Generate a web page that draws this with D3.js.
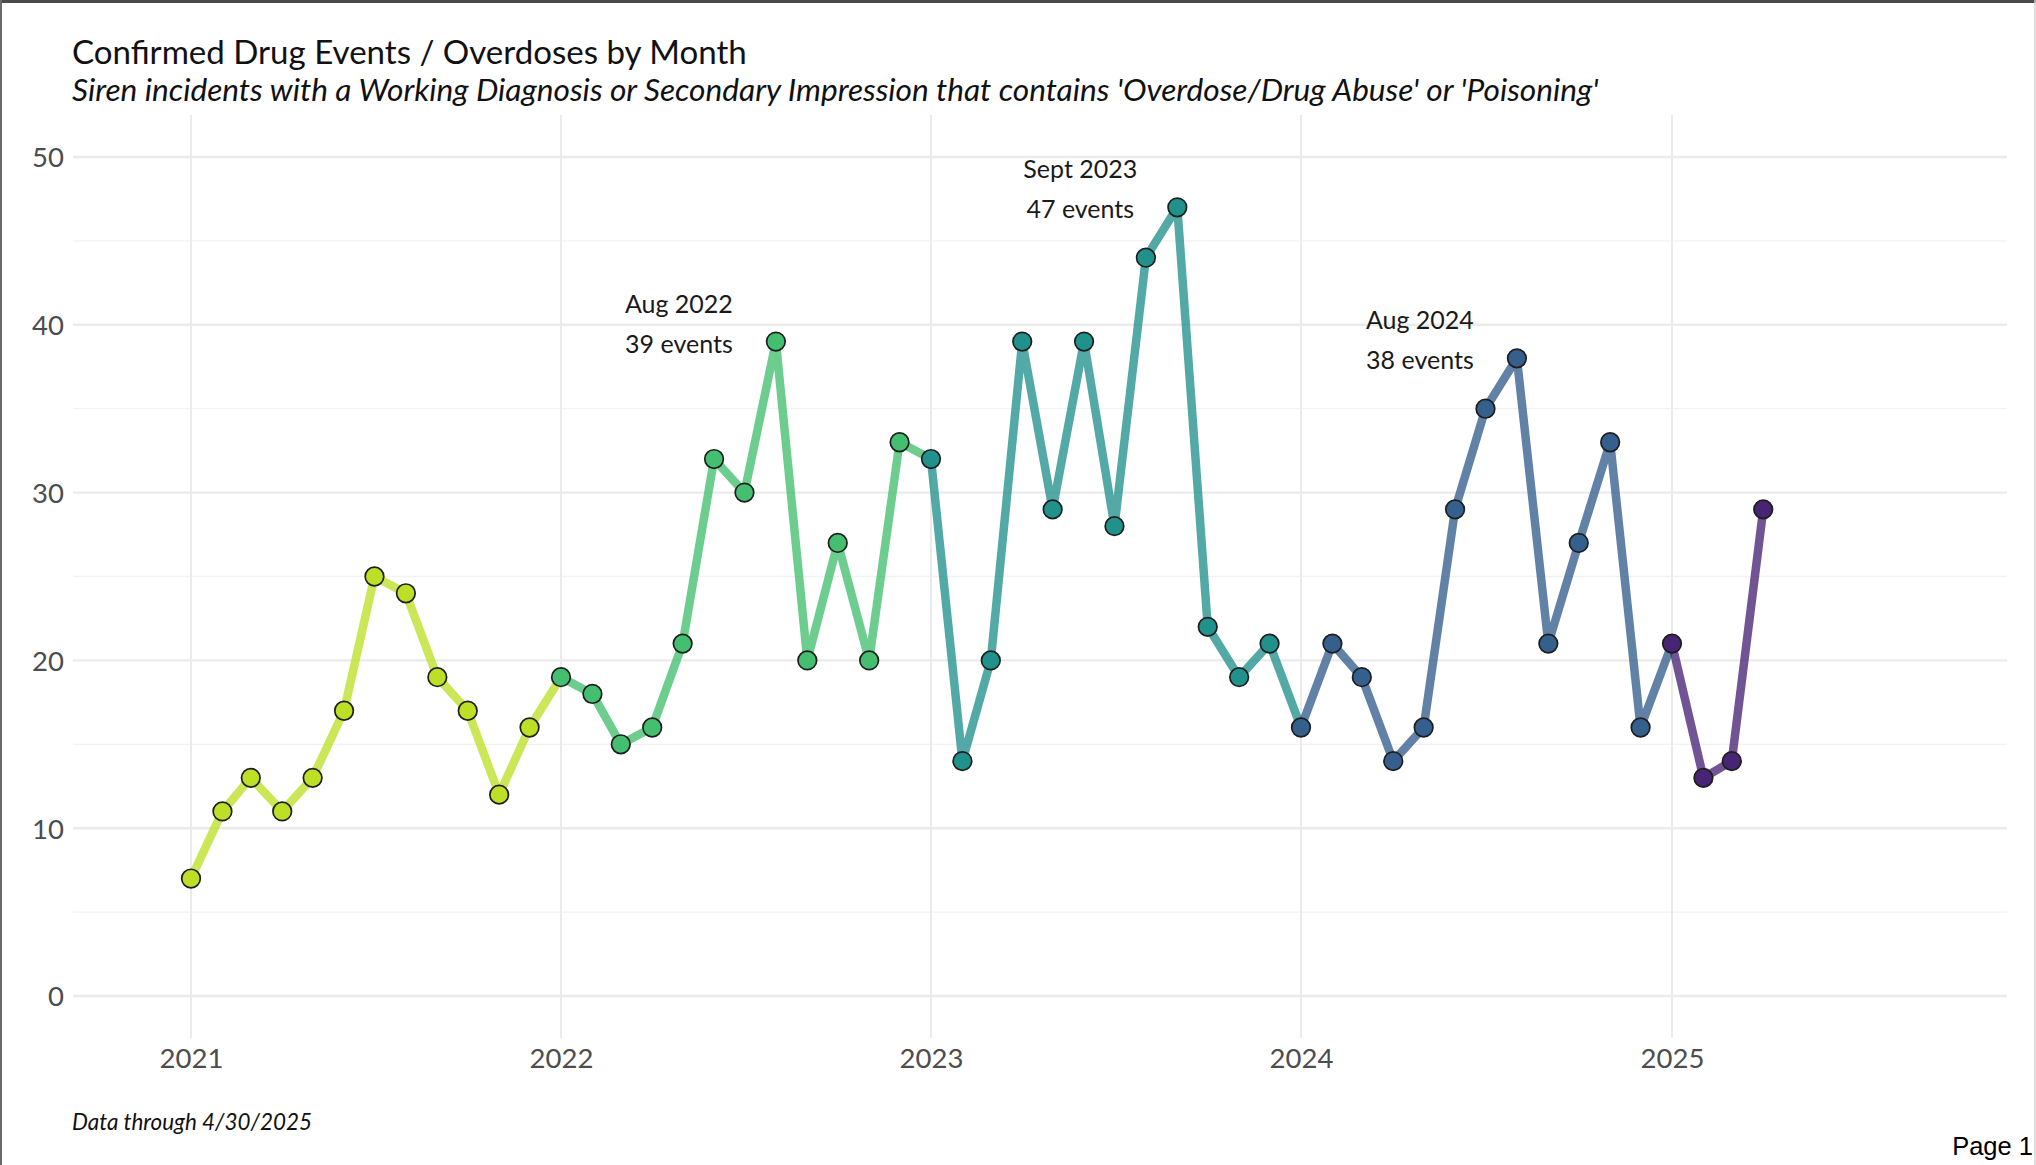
<!DOCTYPE html>
<html>
<head>
<meta charset="utf-8">
<script src="https://cdn.jsdelivr.net/npm/d3@7"></script>
<style>
  html, body { margin: 0; padding: 0; background: #fff; }
  svg { display: block; }
  text { font-family: Lato, "Open Sans", sans-serif; }
</style>
</head>
<body>
<div id="chart"></div>
<script>
// data
var years = [2021, 2022, 2023, 2024, 2025];
var events2021 = [7, 11, 13, 11, 13, 17, 25, 24, 19, 17, 12, 16];
var events2022 = [19, 18, 15, 16, 21, 32, 30, 39, 20, 27, 20, 33];
var events2023 = [32, 14, 20, 39, 29, 39, 28, 44, 47, 22, 19, 21];
var events2024 = [16, 21, 19, 14, 16, 29, 35, 38, 21, 27, 33, 16];
var events2025 = [21, 13, 14, 29];
var yTicks = [0, 10, 20, 30, 40, 50];
var yMinor = [5, 15, 25, 35, 45];
var callouts = [
  {year: 2022, month: 7, label: "Aug 2022"},
  {year: 2023, month: 8, label: "Sept 2023"},
  {year: 2024, month: 7, label: "Aug 2024"}
];

var width = 2036, height = 1165;

var svg = d3.select("#chart").append("svg")
  .attr("width", width)
  .attr("height", height);

// build one row per month
var byYear = [events2021, events2022, events2023, events2024, events2025];
var data = [];
byYear.forEach(function(vals, yi) {
  vals.forEach(function(v, m) {
    data.push({date: new Date(years[yi], m, 1), year: years[yi], value: v});
  });
});

// scales
var x = d3.scaleTime()
  .domain([new Date(2021, 0, 1), new Date(2025, 0, 1)])
  .range([191, 1672]);
var y = d3.scaleLinear()
  .domain([0, 50])
  .range([996, 157]);

var panel = {left: 73, right: 2007, top: y(52.5), bottom: y(-2.5)};

var color = d3.scaleOrdinal()
  .domain(years)
  .range([0.9, 0.7, 0.5, 0.3, 0.1].map(d3.interpolateViridis));

// frame of the page
svg.append("line").attr("x1", 0).attr("x2", width).attr("y1", 1.5).attr("y2", 1.5)
  .style("stroke", "#4a4a4a").style("stroke-width", 3);
svg.append("line").attr("x1", 1).attr("x2", 1).attr("y1", 0).attr("y2", height)
  .style("stroke", "#6a6a6a").style("stroke-width", 2);
svg.append("line").attr("x1", 2035).attr("x2", 2035).attr("y1", 0).attr("y2", height)
  .style("stroke", "#d0d0d0").style("stroke-width", 1.5);

// grid
var grid = svg.append("g");
grid.selectAll(".minor").data(yMinor).enter().append("line")
  .attr("x1", panel.left).attr("x2", panel.right)
  .attr("y1", function(d) { return y(d); }).attr("y2", function(d) { return y(d); })
  .style("stroke", "#f2f2f2").style("stroke-width", 1.3);
grid.selectAll(".major").data(yTicks).enter().append("line")
  .attr("x1", panel.left).attr("x2", panel.right)
  .attr("y1", function(d) { return y(d); }).attr("y2", function(d) { return y(d); })
  .style("stroke", "#ebebeb").style("stroke-width", 2.4);
grid.selectAll(".vmajor").data(years).enter().append("line")
  .attr("x1", function(d) { return x(new Date(d, 0, 1)); })
  .attr("x2", function(d) { return x(new Date(d, 0, 1)); })
  .attr("y1", panel.top).attr("y2", panel.bottom)
  .style("stroke", "#ebebeb").style("stroke-width", 2);

// axes (ggplot-style, no domain line or ticks)
var yAxis = svg.append("g")
  .attr("transform", "translate(" + (panel.left - 9) + ",0)")
  .call(d3.axisLeft(y).tickValues(yTicks).tickSize(0).tickPadding(0));
var xAxis = svg.append("g")
  .attr("transform", "translate(0," + (panel.bottom + 4) + ")")
  .call(d3.axisBottom(x)
    .tickValues(years.map(function(d) { return new Date(d, 0, 1); }))
    .tickFormat(d3.timeFormat("%Y"))
    .tickSize(0).tickPadding(0));
svg.selectAll(".domain").remove();
yAxis.selectAll("text").attr("dy", "0.36em").attr("x", 0);
xAxis.selectAll("text").attr("dy", "0.95em");
svg.selectAll(".tick text")
  .style("font-family", "Lato, sans-serif")
  .style("font-size", "27.5px")
  .style("fill", "#4d4d4d");

// lines: each year's segment runs on to the next January
var valueline = d3.line()
  .x(function(d) { return x(d.date); })
  .y(function(d) { return y(d.value); });

years.forEach(function(yr) {
  var seg = data.filter(function(d) { return d.year === yr; });
  var next = data.filter(function(d) { return d.year === yr + 1; })[0];
  if (next) seg = seg.concat([next]);
  svg.append("path")
    .datum(seg)
    .attr("d", valueline)
    .style("fill", "none")
    .style("stroke", color(yr))
    .style("stroke-opacity", 0.78)
    .style("stroke-width", 8.5)
    .style("stroke-linejoin", "round");
});

// points
svg.selectAll("circle.pt")
  .data(data)
  .enter()
  .append("circle")
    .attr("cx", function(d) { return x(d.date); })
    .attr("cy", function(d) { return y(d.value); })
    .attr("r", 9.3)
    .style("fill", function(d) { return color(d.year); })
    .style("stroke", "#1e1e1e")
    .style("stroke-width", 1.7);

// peak labels
callouts.forEach(function(c) {
  var pt = data.filter(function(d) { return d.year === c.year && d.date.getMonth() === c.month; })[0];
  var t = svg.append("text")
    .attr("x", x(pt.date) - 97)
    .attr("y", y(pt.value))
    .attr("text-anchor", "middle")
    .style("font-size", "25px")
    .style("fill", "#1a1a1a");
  t.append("tspan").attr("x", x(pt.date) - 97).attr("dy", "-29").text(c.label);
  t.append("tspan").attr("x", x(pt.date) - 97).attr("dy", "40").text(pt.value + " events");
});

// titles
function fitWidth(sel, w) {
  var len = sel.node().getComputedTextLength();
  var fs = parseFloat(sel.style("font-size"));
  sel.style("font-size", (fs * w / len) + "px");
}

var title = svg.append("text").attr("x", 72).attr("y", 64)
  .style("font-size", "27px").style("fill", "#111")
  .text("Confirmed Drug Events / Overdoses by Month");
fitWidth(title, 675);

var subtitle = svg.append("text").attr("x", 72).attr("y", 101)
  .style("font-size", "26px").style("font-style", "italic").style("fill", "#111")
  .text("Siren incidents with a Working Diagnosis or Secondary Impression that contains 'Overdose/Drug Abuse' or 'Poisoning'");
fitWidth(subtitle, 1527);

var footer = svg.append("text").attr("x", 72).attr("y", 1130)
  .style("font-size", "20px").style("font-style", "italic").style("fill", "#111")
  .text("Data through 4/30/2025");
fitWidth(footer, 240);

svg.append("text").attr("x", 2033).attr("y", 1155)
  .attr("text-anchor", "end")
  .style("font-family", "'Liberation Sans', Arial, sans-serif")
  .style("font-size", "25.5px").style("fill", "#000")
  .text("Page 1");
</script>
</body>
</html>
